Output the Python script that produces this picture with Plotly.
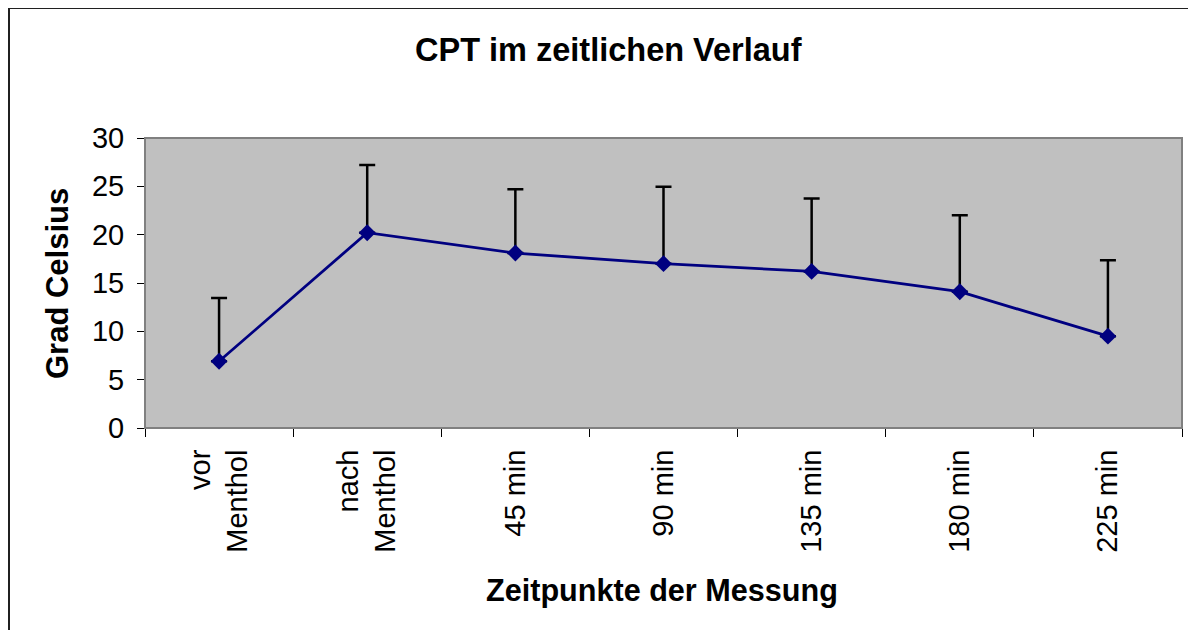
import plotly.graph_objects as go

# Messzeitpunkte und Werte (Mittelwert, Standardabweichung nach oben)
zeitpunkte = ["vor<br>Menthol", "nach<br>Menthol", "45 min", "90 min", "135 min", "180 min", "225 min"]
cpt_mittel = [6.9, 20.2, 18.1, 17.0, 16.2, 14.1, 9.5]
cpt_sd = [6.55, 7.0, 6.6, 7.95, 7.55, 7.9, 7.85]
y_ticks = [0, 5, 10, 15, 20, 25, 30]

FONT = "Liberation Sans, Arial, sans-serif"

# die Seite hat 8px Rand, alle Angaben unten in Seitenpixeln
OFF = 8
W, H = 1196 - OFF, 630 - OFF
L, R, T, B = 145, 1182, 138, 428  # Plotfläche


def px_x(px):
    return (px - L) / (R - L)


def px_y(py):
    return (B - py) / (B - T)


fig = go.Figure()
fig.add_trace(go.Scatter(
    x=zeitpunkte, y=cpt_mittel, mode="lines+markers",
    line=dict(color="#000080", width=2.8),
    marker=dict(symbol="diamond", size=13, color="#000080"),
    error_y=dict(type="data", symmetric=False, array=cpt_sd,
                 arrayminus=[0] * len(cpt_sd),
                 color="black", thickness=2.5, width=8),
    showlegend=False,
))

fig.update_layout(
    width=W, height=H,
    margin=dict(l=L - OFF, r=W + OFF - R, t=T - OFF, b=H + OFF - B),
    paper_bgcolor="white", plot_bgcolor="#C0C0C0",
    font=dict(family=FONT, color="black", size=29),
    xaxis=dict(type="category", range=[-0.5, 6.5], tickson="boundaries",
               ticks="outside", ticklen=8, tickcolor="black", tickwidth=1,
               tickangle=-90, showline=True, linecolor="black", linewidth=1,
               showgrid=False, zeroline=False, tickfont=dict(size=29),
               ticklabelstandoff=9),
    yaxis=dict(range=[0, 30], tickvals=y_ticks, ticks="outside", ticklen=7,
               tickcolor="black", tickwidth=1, showline=True, linecolor="black",
               linewidth=1, showgrid=False, zeroline=False,
               tickfont=dict(size=29), ticklabelstandoff=7),
    shapes=[
        dict(type="rect", xref="paper", yref="paper", x0=0, y0=0, x1=1, y1=1,
             line=dict(color="#808080", width=2)),
        dict(type="line", xref="paper", yref="paper", x0=px_x(9), x1=px_x(9),
             y0=px_y(8), y1=px_y(660), line=dict(color="#202020", width=2)),
        dict(type="line", xref="paper", yref="paper", x0=px_x(9), x1=px_x(1230),
             y0=px_y(8), y1=px_y(8), line=dict(color="#202020", width=2)),
    ],
    annotations=[
        dict(text="<b>CPT im zeitlichen Verlauf</b>", xref="paper", yref="paper",
             x=px_x(608), y=px_y(50), showarrow=False,
             font=dict(size=32.5), xanchor="center", yanchor="middle"),
        dict(text="<b>Grad Celsius</b>", xref="paper", yref="paper",
             x=px_x(57), y=px_y(284), showarrow=False, textangle=-90,
             font=dict(size=31), xanchor="center", yanchor="middle"),
        dict(text="<b>Zeitpunkte der Messung</b>", xref="paper", yref="paper",
             x=px_x(662), y=px_y(590), showarrow=False,
             font=dict(size=30.6), xanchor="center", yanchor="middle"),
    ],
)

fig.write_html("out.html")
